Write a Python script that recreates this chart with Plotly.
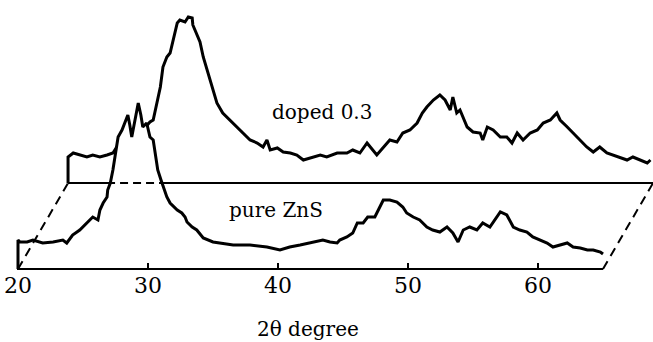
import plotly.graph_objects as go

# ---- data (2θ in degrees, intensity in arbitrary units) ----
pure_theta = [20.0, 20.15, 20.7, 21.15, 21.9, 22.7, 23.45, 23.75, 24.2, 24.75, 25.3, 25.75, 26.15, 26.3,
              26.55, 26.85, 26.9, 27.1, 27.3, 27.55, 27.7, 28.0, 28.25, 28.45, 28.6, 28.75, 29.0, 29.25,
              29.45, 29.6, 29.9, 30.15, 30.4, 30.6, 30.75, 31.0, 31.15, 31.45, 31.7, 32.25, 32.6, 32.85,
              33.0, 33.4, 33.75, 34.25, 35.0, 35.55, 36.55, 37.85, 39.15, 40.15, 40.9, 41.7, 42.7, 43.45,
              44.0, 44.55, 44.75, 45.3, 45.75, 46.1, 46.55, 46.9, 47.45, 47.85, 48.1, 48.6, 49.15, 49.6,
              49.9, 50.4, 50.9, 51.45, 51.9, 52.45, 53.0, 53.45, 53.85, 54.25, 54.75, 55.3, 55.75, 56.3,
              56.85, 57.1, 57.6, 58.1, 58.6, 59.15, 59.6, 60.15, 60.7, 61.15, 61.7, 62.25, 62.7, 63.25,
              63.8, 64.25, 64.8, 65.0]
pure_int = [29, 27, 27, 29, 26, 27, 29, 26, 34, 39, 46, 52, 49, 59,
            66, 72, 79, 86, 99, 119, 132, 139, 147, 154, 144, 132, 149, 166,
            154, 142, 146, 132, 129, 109, 99, 89, 84, 72, 66, 59, 56, 52,
            47, 42, 39, 31, 27, 26, 24, 24, 22, 19, 22, 24, 27, 29,
            27, 26, 29, 32, 36, 46, 46, 52, 52, 62, 69, 69, 67, 62,
            56, 52, 49, 42, 39, 37, 42, 36, 27, 39, 42, 39, 46, 42,
            52, 57, 54, 42, 39, 37, 32, 29, 26, 22, 24, 26, 22, 21,
            19, 19, 17, 15]

doped_theta = [20.0, 20.4, 20.9, 21.45, 21.9, 22.45, 23.0, 23.45, 23.75, 24.15, 24.55, 24.9, 25.3, 25.7,
               26.1, 26.3, 26.55, 26.85, 27.1, 27.3, 27.6, 27.85, 28.1, 28.4, 28.6, 29.0, 29.25, 29.55,
               29.6, 29.75, 30.15, 30.4, 30.7, 31.1, 31.45, 31.9, 32.45, 33.0, 33.45, 34.0, 34.55, 35.0,
               35.3, 35.55, 36.1, 36.55, 37.1, 37.6, 38.1, 38.85, 39.4, 39.9, 40.7, 41.45, 41.9, 42.45,
               43.0, 43.75, 44.25, 44.75, 45.3, 45.75, 46.3, 46.85, 47.25, 47.6, 48.1, 48.6, 49.0, 49.4,
               49.6, 49.9, 50.15, 50.7, 51.15, 51.7, 51.9, 52.25, 52.7, 53.25, 53.75, 54.15, 54.55, 55.0,
               55.55, 56.1, 56.55, 57.1, 57.6, 57.85, 58.4, 58.85, 59.4, 59.9, 60.4, 60.9, 61.45, 61.9,
               62.45, 63.0, 63.45, 64.0, 64.55, 64.8]
doped_int = [26, 30, 28, 26, 28, 26, 28, 30, 36, 41, 45, 50, 53, 56,
             58, 61, 63, 83, 96, 116, 126, 130, 143, 160, 163, 161, 166, 165,
             158, 153, 141, 126, 113, 96, 80, 70, 63, 56, 51, 43, 40, 36,
             43, 33, 35, 31, 30, 28, 23, 26, 28, 26, 30, 30, 33, 30,
             40, 28, 36, 43, 41, 50, 53, 60, 70, 76, 83, 88, 83, 73,
             86, 70, 73, 56, 51, 50, 43, 56, 53, 46, 46, 40, 50, 43,
             50, 53, 60, 63, 70, 63, 56, 50, 43, 36, 31, 36, 30, 28,
             26, 23, 26, 23, 20, 23]

tick_values = [20, 30, 40, 50, 60]
tick_labels = ["20", "30", "40", "50", "60"]

theta_start, theta_end = 20.0, 65.0
back_shift_deg = 3.85   # horizontal offset of the rear (doped) pattern
back_lift = 86          # vertical offset of the rear pattern

FONT = "DejaVu Serif"

fig = go.Figure()

bx = [t + back_shift_deg for t in doped_theta]
by = [v + back_lift for v in doped_int]

# rear baseline (solid)
fig.add_trace(go.Scatter(x=[theta_start + back_shift_deg, theta_end + back_shift_deg],
                         y=[back_lift, back_lift], mode="lines",
                         line=dict(color="black", width=2), hoverinfo="skip"))
# rear pattern
fig.add_trace(go.Scatter(x=[theta_start + back_shift_deg] + bx, y=[back_lift] + by, mode="lines",
                         line=dict(color="black", width=3), hoverinfo="skip"))
# front pattern with opaque fill (hides what is behind)
fig.add_trace(go.Scatter(x=[theta_start] + pure_theta, y=[0] + pure_int, mode="lines",
                         fill="tozeroy", fillcolor="white",
                         line=dict(color="black", width=3), hoverinfo="skip"))
# hidden part of rear baseline (dashed)
fig.add_trace(go.Scatter(x=[theta_start + back_shift_deg, theta_end + back_shift_deg],
                         y=[back_lift, back_lift], mode="lines",
                         line=dict(color="black", width=2, dash="8px,5px"), hoverinfo="skip"))
# front baseline
fig.add_trace(go.Scatter(x=[theta_start, theta_end], y=[0, 0], mode="lines",
                         line=dict(color="black", width=2), hoverinfo="skip"))
# perspective connectors
for t in (theta_start, theta_end):
    fig.add_trace(go.Scatter(x=[t, t + back_shift_deg], y=[0, back_lift], mode="lines",
                             line=dict(color="black", width=2, dash="9px,6px"), hoverinfo="skip"))

fig.add_annotation(x=43.4, y=157, text="doped 0.3", showarrow=False,
                   font=dict(family=FONT, size=20, color="black"))
fig.add_annotation(x=39.85, y=59, text="pure ZnS", showarrow=False,
                   font=dict(family=FONT, size=20, color="black"))
fig.add_annotation(x=42.3, xref="x", y=-0.22, yref="paper", yanchor="middle",
                   text="2θ degree", showarrow=False,
                   font=dict(family=FONT, size=20, color="black"))

fig.update_layout(
    width=653, height=342,
    margin=dict(l=0, r=0, t=0, b=72),
    paper_bgcolor="white", plot_bgcolor="white",
    showlegend=False,
    font=dict(family=FONT, color="black"),
    xaxis=dict(range=[18.615, 68.846], tickvals=tick_values, ticktext=tick_labels,
               ticks="inside", ticklen=7, tickwidth=2, tickcolor="black",
               showline=False, showgrid=False, zeroline=False,
               tickfont=dict(family=FONT, size=22, color="black")),
    yaxis=dict(range=[-1, 269], visible=False, showgrid=False, zeroline=False),
)

fig.write_html("out.html")
